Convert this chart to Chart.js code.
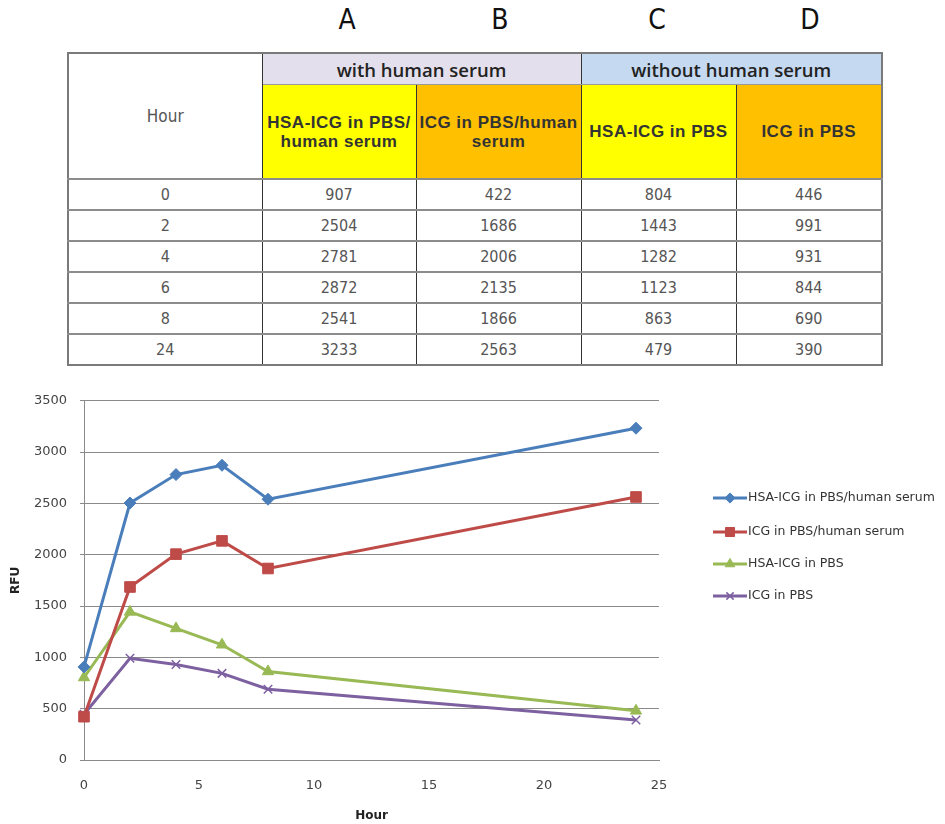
<!DOCTYPE html>
<html>
<head>
<meta charset="utf-8">
<script src="https://cdn.jsdelivr.net/npm/chart.js@4.4.1/dist/chart.umd.min.js"></script>
<style>
  html, body { margin: 0; padding: 0; background: #fff; }
  body { width: 945px; height: 824px; position: relative; overflow: hidden; }
  .letter {
    position: absolute; top: 3px; width: 40px; margin-left: -20px; text-align: center;
    font: 28px "Liberation Sans Narrow", "DejaVu Sans Condensed", sans-serif; color: #111;
  }
  #tbl {
    position: absolute; left: 67px; top: 52px; width: 814px;
    border-collapse: collapse; table-layout: fixed; border: 2px solid #7a7a7a;
  }
  #tbl td { padding: 0; text-align: center; vertical-align: middle; border-left: 1px solid #333; border-right: 1px solid #333; }
  #tbl tr.data td { border-top: 2px solid #8c8c8c; height: 29px;
    font: 16px "Liberation Sans Narrow", "DejaVu Sans Condensed", sans-serif; color: #555; }
  .hour { font: 17px "Liberation Sans Narrow", "DejaVu Sans Condensed", sans-serif; color: #555; background: #fff; }
  .grp { height: 30px; font: 600 18.5px "Open Sans", "Noto Sans", sans-serif; color: #222; border-bottom: 1px solid #999; }
  .with { background: #E4DFEC; }
  .without { background: #C5D9F1; }
  .sub { height: 93px; font: bold 17px "Liberation Sans", Arial, sans-serif; color: #333; line-height: 19px; letter-spacing: 0.5px; white-space: nowrap; }
  .yel { background: #FFFF00; }
  .org { background: #FFC000; }
  #chartBox { position: absolute; left: 0; top: 380px; width: 945px; height: 444px; }
</style>
</head>
<body>
<div class="letter" style="left:347px">A</div>
<div class="letter" style="left:500px">B</div>
<div class="letter" style="left:657px">C</div>
<div class="letter" style="left:810px">D</div>

<table id="tbl">
  <colgroup>
    <col style="width:194px"><col style="width:154px"><col style="width:165px"><col style="width:155px"><col style="width:146px">
  </colgroup>
  <tbody id="tbody">
    <tr>
      <td class="hour" rowspan="2">Hour</td>
      <td class="grp with" colspan="2">with human serum</td>
      <td class="grp without" colspan="2">without human serum</td>
    </tr>
    <tr>
      <td class="sub yel">HSA-ICG in PBS/<br>human serum</td>
      <td class="sub org">ICG in PBS/human<br>serum</td>
      <td class="sub yel">HSA-ICG in PBS</td>
      <td class="sub org">ICG in PBS</td>
    </tr>
  </tbody>
</table>

<div id="chartBox"><canvas id="chart"></canvas></div>

<script>
// Sampling times (hours)
const hours = [0, 2, 4, 6, 8, 24];

// RFU readings per condition
const hsaIcgPbsSerum = [907, 2504, 2781, 2872, 2541, 3233];
const icgPbsSerum    = [422, 1686, 2006, 2135, 1866, 2563];
const hsaIcgPbs      = [804, 1443, 1282, 1123, 863, 479];
const icgPbs         = [446, 991, 931, 844, 690, 390];

const seriesLabels = [
  'HSA-ICG in PBS/human serum',
  'ICG in PBS/human serum',
  'HSA-ICG in PBS',
  'ICG in PBS'
];
const seriesValues = [hsaIcgPbsSerum, icgPbsSerum, hsaIcgPbs, icgPbs];

// Fill the data rows of the table
const tbody = document.getElementById('tbody');
hours.forEach((h, i) => {
  const tr = document.createElement('tr');
  tr.className = 'data';
  [h].concat(seriesValues.map(s => s[i])).forEach(v => {
    const td = document.createElement('td');
    td.textContent = v;
    tr.appendChild(td);
  });
  tbody.appendChild(tr);
});

// Line / marker styling per series
const seriesStyle = [
  { color: '#4A7EBB', pointStyle: 'rectRot',  radius: 6,   pbw: 1 },
  { color: '#BE4B48', pointStyle: 'rect',     radius: 7.5, pbw: 1 },
  { color: '#98B954', pointStyle: 'triangle', radius: 6.5, pbw: 1 },
  { color: '#7D60A0', pointStyle: 'crossRot', radius: 6,   pbw: 1.5 }
];

const datasets = seriesValues.map((vals, k) => ({
  label: seriesLabels[k],
  data: hours.map((h, i) => ({ x: h, y: vals[i] })),
  borderColor: seriesStyle[k].color,
  backgroundColor: seriesStyle[k].color,
  borderWidth: 3,
  pointStyle: seriesStyle[k].pointStyle,
  pointRadius: seriesStyle[k].radius,
  pointHoverRadius: seriesStyle[k].radius,
  pointBackgroundColor: seriesStyle[k].color,
  pointBorderColor: seriesStyle[k].color,
  pointBorderWidth: seriesStyle[k].pbw,
  tension: 0,
  clip: false
}));

const tickFont = { family: '"DejaVu Sans", sans-serif', size: 13 };
const titleFont = { family: '"DejaVu Sans", sans-serif', size: 12, weight: 'bold' };
const gridGray = '#8a8a8a';

// Legend drawn to the right of the plot: line segment with marker, then label
const sideLegend = {
  id: 'sideLegend',
  afterDraw(chart) {
    const ctx = chart.ctx;
    const x0 = 713, x1 = 747, ys = [118, 152, 184, 216];
    chart.data.datasets.forEach((ds, i) => {
      const y = ys[i];
      ctx.save();
      ctx.strokeStyle = ds.borderColor;
      ctx.lineWidth = 3;
      ctx.beginPath();
      ctx.moveTo(x0, y);
      ctx.lineTo(x1, y);
      ctx.stroke();
      ctx.fillStyle = ds.pointBackgroundColor;
      ctx.strokeStyle = ds.pointBorderColor;
      ctx.lineWidth = ds.pointBorderWidth;
      Chart.helpers.drawPoint(ctx, {
        pointStyle: ds.pointStyle,
        radius: ds.pointRadius * 0.85,
        rotation: 0,
        borderWidth: ds.pointBorderWidth
      }, (x0 + x1) / 2, y);
      ctx.fillStyle = '#333';
      ctx.font = '12.5px "DejaVu Sans", sans-serif';
      ctx.textBaseline = 'middle';
      ctx.textAlign = 'left';
      ctx.fillText(ds.label, x1 + 1, y);
      ctx.restore();
    });
  }
};

new Chart(document.getElementById('chart'), {
  type: 'line',
  data: { datasets },
  plugins: [sideLegend],
  options: {
    responsive: true,
    maintainAspectRatio: false,
    animation: false,
    layout: { padding: { top: 15, right: 286, bottom: 0, left: 0 } },
    plugins: { legend: { display: false }, tooltip: { enabled: false } },
    scales: {
      x: {
        type: 'linear',
        min: 0, max: 25,
        ticks: { stepSize: 5, font: tickFont, color: '#444', padding: 18, maxRotation: 0,
                 callback: v => String(v) },
        grid: { display: false, drawTicks: false },
        border: { display: true, color: gridGray, width: 1 },
        title: { display: true, text: 'Hour', font: titleFont, color: '#222', padding: { top: 0, bottom: 1 } },
        afterFit(scale) { scale.height = 64; }
      },
      y: {
        min: 0, max: 3500,
        ticks: { stepSize: 500, font: tickFont, color: '#444', padding: 13,
                 callback: v => String(v) },
        grid: { color: gridGray, tickLength: 4, lineWidth: 1 },
        border: { display: true, color: gridGray, width: 1 },
        title: { display: true, text: 'RFU', font: titleFont, color: '#222', padding: { top: 9, bottom: 0 } },
        afterFit(scale) { scale.width = 84; }
      }
    }
  }
});
</script>
</body>
</html>
